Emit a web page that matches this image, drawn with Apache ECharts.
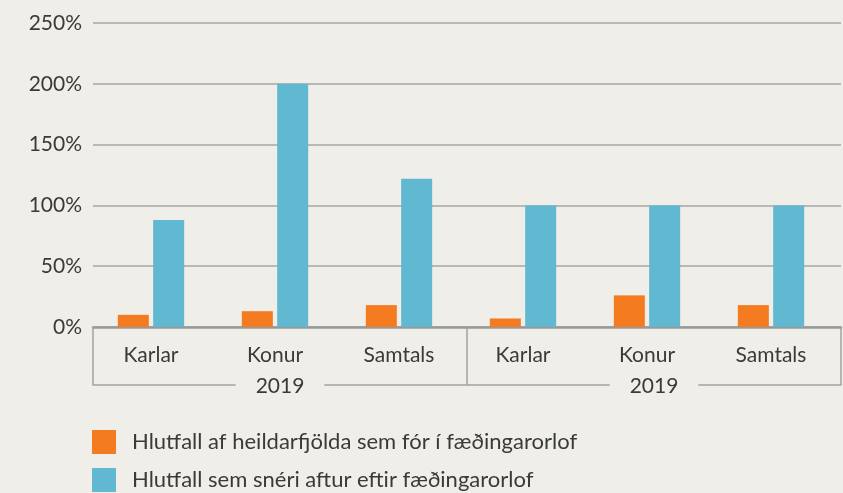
<!DOCTYPE html>
<html>
<head>
<meta charset="utf-8">
<script src="https://cdn.jsdelivr.net/npm/echarts@6/dist/echarts.min.js"></script>
<style>
html,body{margin:0;padding:0;background:#efeee9;}
#chart{width:843px;height:493px;}
</style>
</head>
<body>
<div id="chart"></div>
<script>
const categories = ['Karlar', 'Konur', 'Samtals', 'Karlar', 'Konur', 'Samtals'];
const groups = ['2019', '2019'];
const seriesNames = ['Hlutfall af heildarfjölda sem fór í fæðingarorlof', 'Hlutfall sem snéri aftur eftir fæðingarorlof'];
const orangeValues = [10, 13, 18, 7, 26, 18];
const blueValues = [88, 200, 122, 100, 100, 100];
const yTicks = [0, 50, 100, 150, 200, 250];

const FONT = 'Lato';
const TXT = '#3a3a3a';
const chart = echarts.init(document.getElementById('chart'), null, {renderer: 'canvas'});
chart.setOption({
  backgroundColor: '#efeee9',
  animation: false,
  textStyle: {fontFamily: FONT},
  grid: [
    {left: 93, right: 2, top: 23, bottom: 166},
    {left: 89, right: 10, top: 23, bottom: 166}
  ],
  legend: {
    orient: 'vertical', left: 92, top: 430, padding: 0,
    itemWidth: 24, itemHeight: 24, itemGap: 14,
    icon: 'rect',
    textStyle: {fontFamily: FONT, fontSize: 22, color: TXT, padding: [0, 0, 0, 11]},
    data: seriesNames
  },
  xAxis: [
    {gridIndex: 0, type: 'category', data: categories, position: 'bottom',
     axisLine: {show: true, lineStyle: {color: '#999999', width: 2.5}},
     axisTick: {show: false}, axisLabel: {show: false}, splitLine: {show: false}},
    {gridIndex: 0, type: 'category', data: groups, position: 'bottom', offset: 58,
     axisLine: {show: true, lineStyle: {color: '#a3a3a3', width: 1.5}},
     axisTick: {show: true, inside: true, length: 58, interval: 0, lineStyle: {color: '#a3a3a3', width: 1.5}},
     axisLabel: {show: true, interval: 0, margin: 1, verticalAlign: 'middle', fontFamily: FONT, fontSize: 21, color: TXT,
       backgroundColor: '#efeee9', padding: [2, 20, 2, 20]}},
    {gridIndex: 1, type: 'category', data: categories, position: 'bottom',
     axisLine: {show: false}, axisTick: {show: false},
     axisLabel: {interval: 0, margin: 18, fontFamily: FONT, fontSize: 21, color: TXT}}
  ],
  yAxis: [
    {gridIndex: 0, type: 'value', min: 0, max: 250, interval: 50,
     axisLine: {show: false}, axisTick: {show: false},
     axisLabel: {margin: 11, fontFamily: FONT, fontSize: 21, color: TXT,
       formatter: v => yTicks.includes(v) ? v + '%' : ''},
     splitLine: {lineStyle: {color: '#a6a6a6', width: 1.5}}},
    {gridIndex: 1, type: 'value', min: 0, max: 250, interval: 50, show: false,
     splitLine: {show: false}}
  ],
  series: [
    {name: seriesNames[0], type: 'bar', xAxisIndex: 2, yAxisIndex: 1, data: orangeValues,
     barWidth: 31, barGap: '14%', itemStyle: {color: '#f47b20'}, z: 1},
    {name: seriesNames[1], type: 'bar', xAxisIndex: 2, yAxisIndex: 1, data: blueValues,
     barWidth: 31, barGap: '14%', itemStyle: {color: '#60b8d1'}, z: 1}
  ]
});
</script>
</body>
</html>
